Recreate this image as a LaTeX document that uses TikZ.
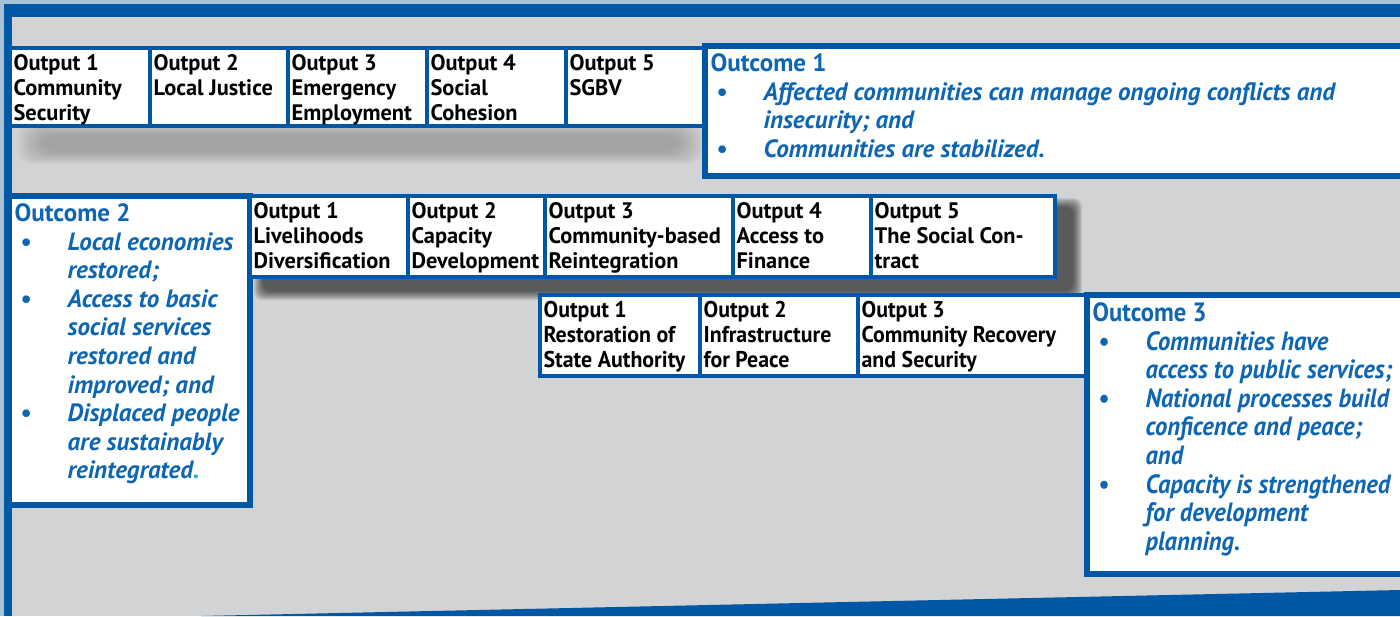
\documentclass[tikz,border=0pt]{standalone}
\usepackage{fontspec}
\setmainfont{PT Sans}
\newfontfamily\narrowfont[FakeStretch=0.96]{PT Sans}
\newfontfamily\slimfont[FakeStretch=0.93]{PT Sans}
\definecolor{frameblue}{RGB}{0,87,165}
\definecolor{edgeblue}{RGB}{168,194,211}
\definecolor{textblue}{RGB}{14,102,178}
\definecolor{dotblue}{RGB}{40,170,225}
\definecolor{panegrey}{RGB}{209,211,212}
\tikzset{
  outbox/.style={draw=frameblue, fill=white, line width=1.6pt},
  outcomebox/.style={draw=frameblue, fill=white, line width=2.6pt},
  outtext/.style={pos=0, anchor=north west, align=left, inner xsep=1pt, inner ysep=2.3pt,
    font=\bfseries\fontsize{11.2}{12.5}\selectfont},
  goaltext/.style={pos=0, anchor=north west, align=left, inner xsep=1.5pt, inner ysep=2.5pt,
    text=textblue, font=\bfseries\fontsize{12.5}{14.3}\selectfont},
}
\newcommand\goalitem[1]{\makebox[26.5pt][l]{\hspace*{3pt}\textbullet}\textit{#1}}
\newcommand\goalmore[1]{\hspace*{26.5pt}\textit{#1}}
\begin{document}
\begin{tikzpicture}[x=0.5pt,y=-0.5pt]
    \useasboundingbox (0,0) rectangle (1400,616);
    \clip (0,0) rectangle (1400,616);
    \fill[panegrey] (0,0) rectangle (1400,616);
    \fill[edgeblue] (0,0) rectangle (1400,4);
    \fill[edgeblue] (0,0) rectangle (4,616);
    \fill[frameblue] (4,4) rectangle (1400,17);
    \fill[frameblue] (4,8) rectangle (12,616);
    \fill[frameblue] (201,616) -- (1400,590) -- (1400,616) -- cycle;

    % shadows
    \foreach \k in {0,...,13}
      \fill[black, opacity=.015, rounded corners=7pt] (16+2*\k,122+\k) rectangle (704-2*\k,164-\k);
    \foreach \k in {0,...,9}
      \fill[black, opacity=.08, rounded corners=4pt] (254+\k,198+\k) rectangle (1082-\k,300-\k);

    % row 1
    \draw[outbox] (10,48) rectangle (150,126) node[outtext] (commsec) {Output 1\\Community\\Security};
    \draw[outbox] (150,48) rectangle (288,126) node[outtext] (justice) {Output 2\\Local Justice};
    \draw[outbox] (288,48) rectangle (427,126) node[outtext] (emergjobs) {Output 3\\Emergency\\Employment};
    \draw[outbox] (427,48) rectangle (566,126) node[outtext] (cohesion) {Output 4\\Social\\Cohesion};
    \draw[outbox] (566,48) rectangle (705,126) node[outtext] (sgbv) {Output 5\\SGBV};
    \draw[outcomebox] (705,46) rectangle (1412,176) node[goaltext] (outcome1) {Outcome 1\\
      \goalitem{Affected communities can manage ongoing conflicts and}\\
      \goalmore{insecurity; and}\\
      \goalitem{Communities are stabilized.}};

    % row 2
    \draw[outcomebox] (9,196) rectangle (250,505) node[goaltext] (outcome2) {Outcome 2\\
      \goalitem{Local economies}\\
      \goalmore{restored;}\\
      \goalitem{Access to basic}\\
      \goalmore{social services}\\
      \goalmore{restored and}\\
      \goalmore{improved; and}\\
      \goalitem{Displaced people}\\
      \goalmore{are sustainably}\\
      \goalmore{reintegrated\textcolor{dotblue}{.}}};
    \draw[outbox] (250,196) rectangle (408,277) node[outtext] (livelihoods) {Output 1\\Livelihoods\\Diversification};
    \draw[outbox] (408,196) rectangle (545,277) node[outtext] (capacity) {Output 2\\Capacity\\Development};
    \draw[outbox] (545,196) rectangle (733,277) node[outtext] (reintegration) {Output 3\\Community-based\\Reintegration};
    \draw[outbox] (733,196) rectangle (871,277) node[outtext] (finance) {Output 4\\Access to\\Finance};
    \draw[outbox] (871,196) rectangle (1055,277) node[outtext] (contract) {Output 5\\The Social Con-\\tract};

    % row 3
    \draw[outbox] (540,295) rectangle (700,376) node[outtext, font=\narrowfont\bfseries\fontsize{11.4}{12.5}\selectfont] (authority) {Output 1\\Restoration of\\State Authority};
    \draw[outbox] (700,295) rectangle (858,376) node[outtext, font=\narrowfont\bfseries\fontsize{11.4}{12.5}\selectfont] (infrastructure) {Output 2\\Infrastructure\\for Peace};
    \draw[outbox] (858,295) rectangle (1087,376) node[outtext, font=\narrowfont\bfseries\fontsize{11.4}{12.5}\selectfont] (recovery) {Output 3\\Community Recovery\\and Security};
    \draw[outcomebox] (1087,295) rectangle (1412,574) node[goaltext, font=\slimfont\bfseries\fontsize{13.2}{14.3}\selectfont] (outcome3) {Outcome 3\\
      \goalitem{Communities have}\\
      \goalmore{access to public services;}\\
      \goalitem{National processes build}\\
      \goalmore{conficence and peace;}\\
      \goalmore{and}\\
      \goalitem{Capacity is strengthened}\\
      \goalmore{for development}\\
      \goalmore{planning.}};
\end{tikzpicture}
\end{document}
